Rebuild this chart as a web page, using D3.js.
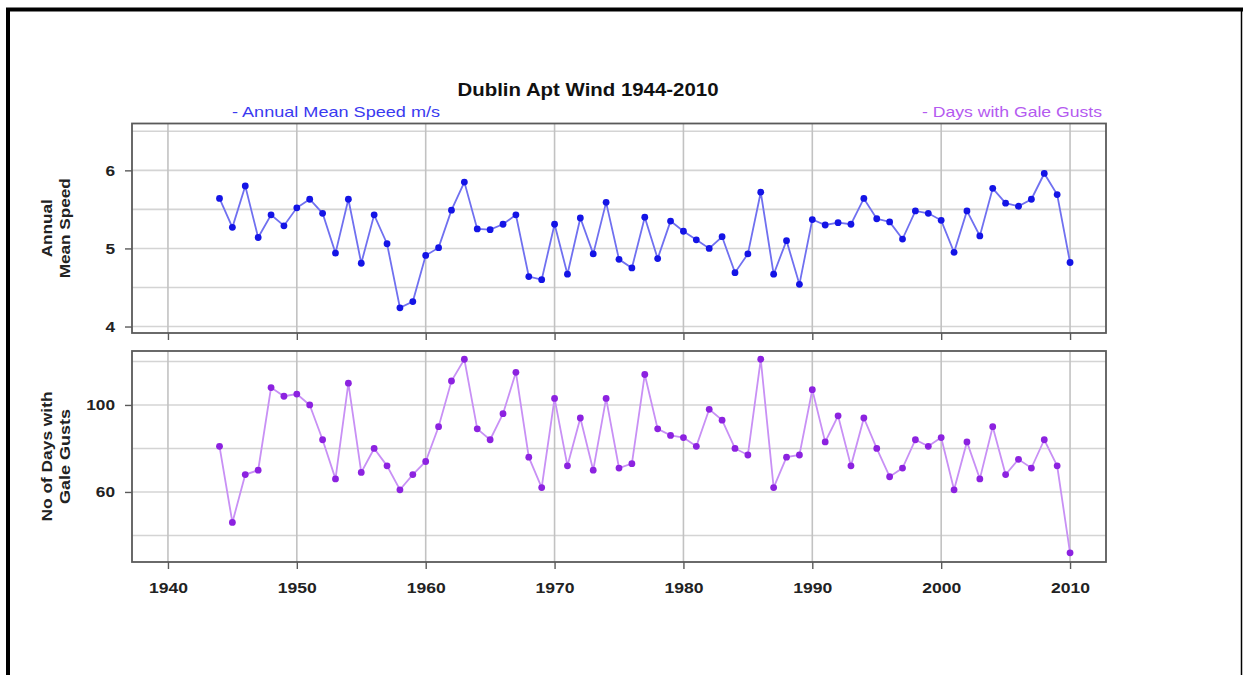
<!DOCTYPE html>
<html>
<head>
<meta charset="utf-8">
<script src="https://cdn.jsdelivr.net/npm/d3@7"></script>
<style>
  html, body { margin: 0; padding: 0; background: #fff; }
  svg { display: block; }
  text { font-family: "Liberation Sans", Arial, Helvetica, sans-serif; }
</style>
</head>
<body>
<svg id="chart" width="1243" height="675"></svg>
<script>
const years = d3.range(1944, 2011);
const meanSpeed = [5.64, 5.27, 5.80, 5.14, 5.43, 5.29, 5.52, 5.63, 5.45, 4.94,
  5.63, 4.81, 5.43, 5.06, 4.24, 4.32, 4.91, 5.01, 5.49, 5.85,
  5.25, 5.24, 5.31, 5.43, 4.64, 4.60, 5.31, 4.67, 5.39, 4.93,
  5.59, 4.86, 4.75, 5.40, 4.87, 5.35, 5.22, 5.11, 5.00, 5.15,
  4.69, 4.93, 5.72, 4.67, 5.10, 4.54, 5.37, 5.30, 5.33, 5.31,
  5.64, 5.38, 5.34, 5.12, 5.48, 5.45, 5.36, 4.95, 5.48, 5.16,
  5.77, 5.58, 5.54, 5.63, 5.96, 5.69, 4.82];
const galeDays = [81, 46, 68, 70, 108, 104, 105, 100, 84, 66,
  110, 69, 80, 72, 61, 68, 74, 90, 111, 121,
  89, 84, 96, 115, 76, 62, 103, 72, 94, 70,
  103, 71, 73, 114, 89, 86, 85, 81, 98, 93,
  80, 77, 121, 62, 76, 77, 107, 83, 95, 72,
  94, 80, 67, 71, 84, 81, 85, 61, 83, 66,
  90, 68, 75, 71, 84, 72, 32];
const xTicks = [1940, 1950, 1960, 1970, 1980, 1990, 2000, 2010];
const speedTicks = [4, 5, 6];
const speedGrid = [4, 4.5, 5, 5.5, 6, 6.5];
const galeTicks = [60, 100];
const galeGrid = [40, 60, 80, 100, 120];

const svg = d3.select("#chart");
const W = 1243, H = 675;
const FONT = "'Liberation Sans', Arial, sans-serif";

// outer border
svg.append("rect").attr("x", 0).attr("y", 0).attr("width", W).attr("height", H).attr("fill", "#fff");
svg.append("line").attr("x1", 6).attr("x2", 1243).attr("y1", 9.5).attr("y2", 9.5).attr("stroke", "#000").attr("stroke-width", 4);
svg.append("line").attr("x1", 8).attr("x2", 8).attr("y1", 8).attr("y2", 675).attr("stroke", "#000").attr("stroke-width", 4);
svg.append("line").attr("x1", 1241.5).attr("x2", 1241.5).attr("y1", 9).attr("y2", 675).attr("stroke", "#000").attr("stroke-width", 1.5);

const L = 132, R = 1106;
const x = d3.scaleLinear().domain([1937.21, 2012.79]).range([L, R]);

const panels = [
  { top: 123.5, bottom: 333, domain: [3.917, 6.60], values: meanSpeed, ticks: speedTicks, grid: speedGrid,
    line: "#7070f0", dot: "#1414e6", label: ["Annual", "Mean Speed"], labLen: [58, 100], labX: [52, 70], xLabels: false },
  { top: 351, bottom: 562, domain: [27.8, 124.8], values: galeDays, ticks: galeTicks, grid: galeGrid,
    line: "#c890f5", dot: "#8c22e0", label: ["No of Days with", "Gale Gusts"], labLen: [130, 95], labX: [52, 70], xLabels: true }
];

panels.forEach(p => {
  const y = d3.scaleLinear().domain(p.domain).range([p.bottom, p.top]);
  const g = svg.append("g");
  // horizontal grid
  g.selectAll("line.hg").data(p.grid).join("line")
    .attr("x1", L).attr("x2", R).attr("y1", d => y(d)).attr("y2", d => y(d))
    .attr("stroke", "#d4d4d4").attr("stroke-width", 1.6);
  // vertical grid
  g.selectAll("line.vg").data(xTicks).join("line")
    .attr("x1", d => x(d)).attr("x2", d => x(d)).attr("y1", p.top).attr("y2", p.bottom)
    .attr("stroke", "#c2c2c2").attr("stroke-width", 1.6);
  // frame
  g.append("rect").attr("x", L).attr("y", p.top).attr("width", R - L).attr("height", p.bottom - p.top)
    .attr("fill", "none").attr("stroke", "#5a5a5a").attr("stroke-width", 1.8);

  // y axis
  const yAxis = d3.axisLeft(y).tickValues(p.ticks).tickSize(7).tickPadding(10).tickFormat(d3.format("d"));
  const ya = svg.append("g").attr("transform", `translate(${L},0)`).call(yAxis);
  ya.select(".domain").remove();
  ya.selectAll(".tick line").attr("stroke", "#5a5a5a").attr("stroke-width", 1.4);
  ya.selectAll(".tick text").attr("font-size", 15.5).attr("font-weight", "bold").attr("fill", "#222")
    .style("font-family", FONT)
    .attr("textLength", d => String(d).length * 9.6).attr("lengthAdjust", "spacingAndGlyphs");

  // x axis ticks
  const xAxis = d3.axisBottom(x).tickValues(xTicks).tickSize(7).tickPadding(13).tickFormat(d3.format("d"));
  const xa = svg.append("g").attr("transform", `translate(0,${p.bottom})`).call(xAxis);
  xa.select(".domain").remove();
  xa.selectAll(".tick line").attr("stroke", "#5a5a5a").attr("stroke-width", 1.4);
  if (p.xLabels) {
    xa.selectAll(".tick text").attr("font-size", 15.5).attr("font-weight", "bold").attr("fill", "#222")
      .style("font-family", FONT)
      .attr("textLength", 39).attr("lengthAdjust", "spacingAndGlyphs");
  } else {
    xa.selectAll(".tick text").remove();
  }

  // y label (two lines)
  const cy = (p.top + p.bottom) / 2;
  p.label.forEach((t, i) => {
    svg.append("text").attr("transform", `translate(${p.labX[i]},${cy}) rotate(-90)`)
      .attr("text-anchor", "middle").attr("font-size", 14.5).attr("font-weight", "bold").attr("fill", "#222")
      .attr("textLength", p.labLen[i]).attr("lengthAdjust", "spacingAndGlyphs")
      .text(t);
  });

  // line + points
  const data = years.map((yr, i) => [yr, p.values[i]]);
  const line = d3.line().x(d => x(d[0])).y(d => y(d[1]));
  svg.append("path").datum(data).attr("d", line).attr("fill", "none")
    .attr("stroke", p.line).attr("stroke-width", 1.8);
  svg.append("g").selectAll("circle").data(data).join("circle")
    .attr("cx", d => x(d[0])).attr("cy", d => y(d[1])).attr("r", 3.4)
    .attr("fill", p.dot);
});

// title and legend
svg.append("text").attr("x", 588).attr("y", 96).attr("text-anchor", "middle")
  .attr("font-size", 19).attr("font-weight", "bold").attr("fill", "#111")
  .attr("textLength", 261).attr("lengthAdjust", "spacingAndGlyphs")
  .text("Dublin Apt Wind 1944-2010");
svg.append("text").attr("x", 232).attr("y", 117).attr("font-size", 15).attr("fill", "#3a3af0")
  .attr("textLength", 208).attr("lengthAdjust", "spacingAndGlyphs")
  .text("- Annual Mean Speed m/s");
svg.append("text").attr("x", 922).attr("y", 117).attr("font-size", 15).attr("fill", "#b45af0")
  .attr("textLength", 180).attr("lengthAdjust", "spacingAndGlyphs")
  .text("- Days with Gale Gusts");
</script>
</body>
</html>
